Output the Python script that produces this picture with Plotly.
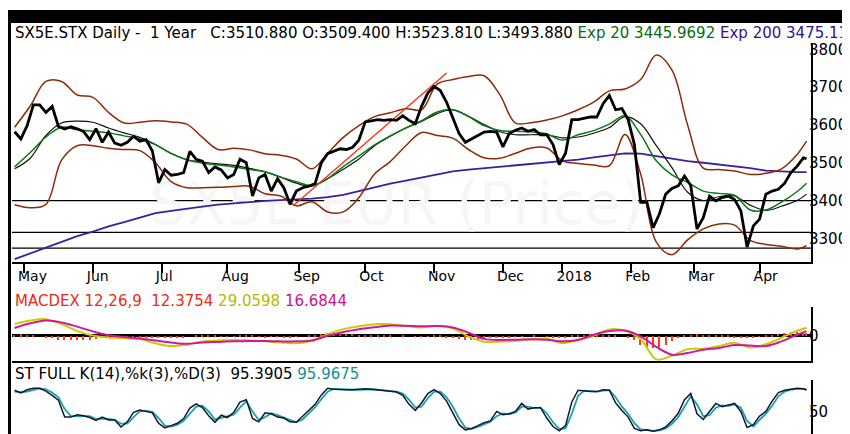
import pandas as pd
import plotly.graph_objects as go

# trading calendar (Eurex holidays removed)
holidays = ["2017-05-01", "2017-12-25", "2017-12-26", "2018-01-01", "2018-03-30", "2018-04-02"]
days = pd.bdate_range("2017-04-26", "2018-04-24")
days = days[~days.isin(pd.to_datetime(holidays))]
dates2 = list(days[::2]) + [days[-1]]   # every 2nd session
dates5 = list(days[::5]) + [days[-1]]   # every 5th session

month_ticks = ["2017-05-02", "2017-06-01", "2017-07-03", "2017-08-01", "2017-09-01", "2017-10-02",
               "2017-11-01", "2017-12-01", "2018-01-02", "2018-02-01", "2018-03-01", "2018-04-03"]
month_labels = ["May", "Jun", "Jul", "Aug", "Sep", "Oct", "Nov", "Dec", "2018", "Feb", "Mar", "Apr"]

# close, sampled every 2 sessions
close = [3582, 3563, 3598, 3653, 3653, 3633, 3649, 3596, 3589, 3595,
         3590, 3583, 3561, 3590, 3554, 3581, 3552, 3546, 3554, 3570,
         3557, 3561, 3531, 3447, 3482, 3467, 3469, 3474, 3530, 3509,
         3504, 3474, 3489, 3481, 3460, 3469, 3509, 3500, 3412, 3460,
         3469, 3425, 3458, 3434, 3390, 3425, 3434, 3438, 3445, 3500,
         3524, 3531, 3537, 3535, 3541, 3560, 3608, 3611, 3614, 3612,
         3614, 3612, 3624, 3612, 3603, 3649, 3684, 3702, 3691, 3660,
         3618, 3577, 3554, 3563, 3572, 3581, 3583, 3581, 3542, 3577,
         3586, 3592, 3583, 3588, 3574, 3574, 3548, 3495, 3525, 3614,
         3614, 3617, 3621, 3621, 3656, 3678, 3640, 3643, 3614, 3548,
         3395, 3395, 3328, 3365, 3417, 3432, 3439, 3465, 3440, 3325,
         3355, 3412, 3399, 3408, 3412, 3403, 3373, 3277, 3333, 3351,
         3417, 3425, 3430, 3446, 3474, 3491, 3513, 3510.88]

# smooth overlays, sampled every 5 sessions
bb_upper = [3594, 3650, 3715, 3715, 3679, 3673, 3633, 3605, 3607, 3611,
            3608, 3602, 3567, 3535, 3538, 3534, 3524, 3520, 3510, 3484,
            3525, 3567, 3598, 3622, 3632, 3643, 3640, 3708, 3720, 3728,
            3730, 3680, 3605, 3606, 3613, 3624, 3640, 3660, 3690, 3695,
            3720, 3785, 3745, 3600, 3486, 3482, 3478, 3469, 3472, 3484,
            3522, 3557]
bb_lower = [3389, 3381, 3390, 3507, 3545, 3545, 3538, 3535, 3532, 3500,
            3450, 3434, 3434, 3435, 3437, 3438, 3418, 3412, 3386, 3397,
            3370, 3370, 3408, 3470, 3503, 3545, 3580, 3572, 3565, 3535,
            3513, 3512, 3525, 3539, 3539, 3505, 3498, 3494, 3492, 3575,
            3470, 3290, 3257, 3296, 3325, 3338, 3335, 3295, 3284, 3279,
            3272, 3281]
sma20 = [3484, 3512, 3572, 3605, 3610, 3607, 3592, 3579, 3567, 3548,
         3525, 3508, 3502, 3497, 3493, 3485, 3476, 3462, 3446, 3438,
         3458, 3483, 3510, 3545, 3570, 3592, 3609, 3630, 3640, 3623,
         3601, 3582, 3574, 3574, 3574, 3566, 3568, 3578, 3593, 3622,
         3603, 3545, 3487, 3422, 3400, 3410, 3412, 3388, 3374, 3385,
         3400, 3417]
ema20 = [3489, 3527, 3568, 3594, 3587, 3583, 3579, 3571, 3563, 3548,
         3524, 3508, 3499, 3494, 3489, 3482, 3476, 3462, 3450, 3440,
         3458, 3490, 3518, 3547, 3571, 3592, 3611, 3634, 3640, 3622,
         3598, 3585, 3583, 3582, 3576, 3560, 3574, 3585, 3602, 3624,
         3575, 3505, 3468, 3448, 3425, 3419, 3414, 3375, 3375, 3396,
         3424, 3445.97]
ema200 = [3245, 3260, 3277, 3290, 3306, 3318, 3332, 3343, 3356, 3367,
          3373, 3379, 3384, 3389, 3393, 3396, 3399, 3401, 3403, 3405,
          3409, 3415, 3425, 3436, 3445, 3453, 3461, 3469, 3477, 3482,
          3486, 3490, 3493, 3497, 3501, 3504, 3508, 3514, 3520, 3525,
          3524, 3518, 3511, 3504, 3500, 3496, 3490, 3486, 3479, 3476,
          3475, 3475.12]

trend_dates = ["2017-08-30", "2017-11-07"]
trend_vals = [3386, 3737]
levels = [3400, 3316, 3274]

# MACD 12,26,9 (every 5 sessions) and histogram (every 2 sessions)
macd = [42, 55, 60, 42, 17, 1, -6, -9, -12, -27,
        -37, -32, -20, -17, -15, -17, -20, -24, -27, -18,
        6, 24, 34, 42, 42, 35, 30, 36, 27, -3,
        -21, -21, -18, -13, -10, -26, -14, 0, 23, 18,
        -12, -85, -72, -48, -47, -37, -25, -42, -30, -7,
        18, 29.06]
signal = [28, 45, 55, 48, 33, 16, 2, -4, -10, -17,
          -24, -29, -24, -22, -20, -19, -19, -20, -20, -17,
          0, 14, 24, 31, 37, 36, 34, 35, 30, 11,
          -11, -15, -14, -12, -14, -20, -15, 4, 17, 19,
          -2, -40, -68, -62, -50, -44, -33, -35, -37, -20,
          4, 16.68]
hist = [6, 7, 6, 3, 0, -4, -8, -12, -14, -15,
        -14, -13, -12, -10, -8, -6, -4, -3, -2, -2,
        -3, -4, -5, -6, -6, -6, -5, -3, 0, 2,
        3, 2, 1, -1, -2, -1, 1, 2, 1, -2,
        -3, -2, -2, -3, -4, -2, 0, 2, 5, 8,
        10, 11, 10, 9, 8, 6, 5, 4, 3, 2,
        1, 0, 1, 0, -1, -2, -1, 2, 1, -3,
        -6, -11, -14, -14, -12, -10, -8, -6, -5, -3,
        -2, -1, 0, 1, 0, -1, -3, -5, -3, 1,
        4, 6, 7, 6, 5, 4, 3, 0, -6, -15,
        -30, -40, -44, -40, -30, -18, -6, 3, 6, 7,
        6, 5, 4, 3, 1, -3, -5, -6, -4, -1,
        3, 6, 9, 12, 14, 14, 13, 12.38]

# full stochastic, every 2 sessions
stoch_k = [95, 89, 96, 99, 99, 93, 84, 74, 38, 38,
           43, 41, 37, 31, 38, 32, 32, 17, 28, 48,
           53, 50, 47, 25, 15, 20, 25, 35, 57, 66,
           58, 41, 27, 42, 37, 48, 70, 75, 35, 28,
           47, 45, 38, 36, 28, 27, 40, 53, 65, 85,
           99, 97, 96, 96, 96, 97, 98, 97, 96, 95,
           93, 91, 84, 65, 52, 68, 88, 96, 88, 72,
           48, 22, 11, 14, 20, 26, 30, 50, 43, 45,
           50, 67, 55, 58, 58, 36, 18, 9, 20, 70,
           95, 93, 92, 92, 96, 95, 68, 52, 38, 14,
           9, 11, 8, 11, 17, 30, 46, 75, 88, 45,
           33, 50, 67, 60, 64, 67, 50, 16, 22, 40,
           50, 72, 90, 95, 97, 99, 98, 95.39]
stoch_d = [92, 91, 92, 96, 99, 97, 90, 80, 55, 40,
           40, 41, 40, 34, 35, 34, 32, 24, 24, 38,
           50, 51, 49, 36, 20, 18, 22, 30, 45, 60,
           62, 50, 33, 36, 39, 43, 58, 72, 50, 32,
           38, 46, 42, 37, 32, 27, 33, 46, 59, 76,
           92, 98, 97, 96, 96, 96, 97, 97, 96, 95,
           94, 92, 88, 75, 58, 60, 78, 92, 92, 80,
           60, 35, 16, 13, 17, 23, 28, 40, 46, 44,
           48, 60, 60, 57, 58, 46, 27, 13, 14, 45,
           83, 94, 93, 92, 94, 95, 80, 60, 45, 25,
           12, 10, 9, 10, 14, 24, 38, 60, 82, 65,
           40, 42, 58, 63, 62, 65, 58, 30, 18, 32,
           45, 62, 82, 92, 96, 98, 98, 95.97]

W, H = 850, 434
FONT = "DejaVu Sans"
breaks = [dict(bounds=["sat", "mon"]), dict(values=holidays)]
xrange_ = ["2017-04-25 04:00", "2018-04-25 10:00"]

fig = go.Figure()

# faint watermark behind everything
fig.add_trace(go.Scatter(x=["2017-10-16"], y=[3377], mode="text", text=["SX5E EUR (Price)"],
                         textfont=dict(size=58, color="#f6f6f6", family=FONT),
                         xaxis="x", yaxis="y", hoverinfo="skip"))

band_col = "#8e2a08"
fig.add_trace(go.Scatter(x=dates5, y=ema200, mode="lines", line=dict(color="#3a1f9e", width=1.8)))
fig.add_trace(go.Scatter(x=dates5, y=bb_upper, mode="lines", line=dict(color=band_col, width=1.5, shape="spline")))
fig.add_trace(go.Scatter(x=dates5, y=bb_lower, mode="lines", line=dict(color=band_col, width=1.5, shape="spline")))
fig.add_trace(go.Scatter(x=dates5, y=sma20, mode="lines", line=dict(color="#111111", width=1.2, shape="spline")))
fig.add_trace(go.Scatter(x=dates5, y=ema20, mode="lines", line=dict(color="#0b7a12", width=1.5, shape="spline")))
fig.add_trace(go.Scatter(x=trend_dates, y=trend_vals, mode="lines", line=dict(color="#ff2a10", width=1.3)))
fig.add_trace(go.Scatter(x=dates2, y=close, mode="lines", line=dict(color="#000000", width=2.8)))

# MACD panel
fig.add_trace(go.Bar(x=dates2, y=hist, marker=dict(color="#ff3a1a", line=dict(width=0)),
                     width=0.45 * 86400000, xaxis="x2", yaxis="y2"))
fig.add_trace(go.Scatter(x=dates5, y=macd, mode="lines", line=dict(color="#c6cc00", width=2, shape="spline"),
                         xaxis="x2", yaxis="y2"))
fig.add_trace(go.Scatter(x=dates5, y=signal, mode="lines", line=dict(color="#d4169a", width=2, shape="spline"),
                         xaxis="x2", yaxis="y2"))

# stochastic panel
fig.add_trace(go.Scatter(x=dates2, y=stoch_d, mode="lines", line=dict(color="#1aa3a0", width=1.8),
                         xaxis="x3", yaxis="y3"))
fig.add_trace(go.Scatter(x=dates2, y=stoch_k, mode="lines", line=dict(color="#14143a", width=1.5),
                         xaxis="x3", yaxis="y3"))

xdom = [4 / W, 803 / W]
common_x = dict(domain=xdom, range=xrange_, type="date", rangebreaks=breaks, showgrid=False,
                zeroline=False, showline=True, linecolor="black", linewidth=2)
common_y = dict(side="right", showgrid=False, showline=True, linecolor="black", linewidth=2,
                ticks="", ticklabelstandoff=-7, tickfont=dict(size=15, color="black", family=FONT))

shapes = [dict(type="line", xref="x domain", x0=0, x1=1, yref="y", y0=lv, y1=lv,
               line=dict(color="black", width=1.2), layer="below") for lv in levels]
# black frame
frame = dict(type="rect", xref="paper", yref="paper", fillcolor="black", line=dict(width=0), layer="above")
shapes += [dict(frame, x0=0, x1=1, y0=1 - 13 / H, y1=1),
           dict(frame, x0=0, x1=3 / W, y0=0, y1=1),
           dict(frame, x0=846 / W, x1=1, y0=0, y1=1 - 33 / H),
           dict(frame, x0=0, x1=1, y0=0, y1=3.5 / H)]

title_main = ("SX5E.STX Daily -&nbsp;&nbsp;1 Year&nbsp;&nbsp;&nbsp;C:3510.880 O:3509.400 H:3523.810 L:3493.880 "
              "<span style='color:#0b6a10'>Exp 20 3445.9692</span> "
              "<span style='color:#2e1390'>Exp 200 3475.115</span>")
title_macd = ("<span style='color:#ee2a14'>MACDEX 12,26,9&nbsp;&nbsp;12.3754</span> "
              "<span style='color:#b4b800'>29.0598</span> "
              "<span style='color:#cc1088'>16.6844</span>")
title_st = ("ST FULL K(14),%k(3),%D(3)&nbsp;&nbsp;95.3905 "
            "<span style='color:#168f8c'>95.9675</span>")

annotations = [dict(xref="paper", yref="paper", x=5 / W, y=1 - yc / H, xanchor="left", yanchor="middle",
                    text=t, showarrow=False, font=dict(size=15, color="black", family=FONT))
               for t, yc in [(title_main, 23), (title_macd, 292), (title_st, 366)]]

fig.update_layout(
    width=W, height=H, margin=dict(l=0, r=0, t=0, b=0),
    paper_bgcolor="white", plot_bgcolor="white", showlegend=False, bargap=0,
    xaxis=dict(common_x, anchor="y", ticks="outside", ticklen=9, tickwidth=2, tickcolor="black",
               tickvals=month_ticks, ticktext=month_labels, ticklabelposition="outside right",
               ticklabelshift=-8, tickfont=dict(size=14, color="black", family=FONT)),
    xaxis2=dict(common_x, anchor="y2", matches="x", showticklabels=False, ticks=""),
    xaxis3=dict(common_x, anchor="y3", matches="x", showticklabels=False, ticks=""),
    yaxis=dict(common_y, domain=[1 - 253 / H, 1 - 33 / H], range=[3238, 3817], anchor="x",
               tickvals=[3300, 3400, 3500, 3600, 3700, 3800], zeroline=False),
    yaxis2=dict(common_y, domain=[1 - 353 / H, 1 - 298 / H], range=[-92, 105], anchor="x2",
                tickvals=[0], zeroline=True, zerolinecolor="black", zerolinewidth=2.5),
    yaxis3=dict(common_y, domain=[1 - 427 / H, 1 - 372 / H], range=[0, 116], anchor="x3",
                tickvals=[50], zeroline=False),
    shapes=shapes, annotations=annotations,
)

fig.write_html("out.html")
